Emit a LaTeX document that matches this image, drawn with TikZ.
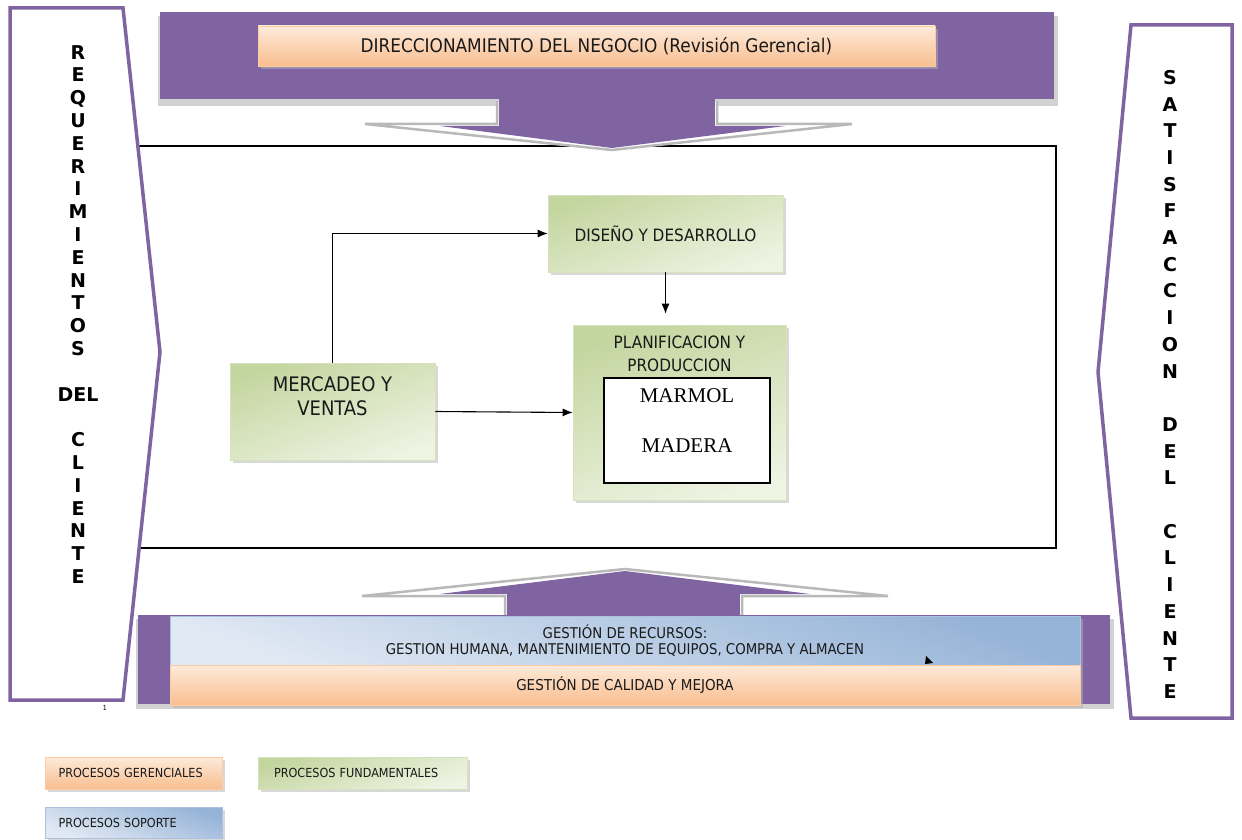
\documentclass[tikz,border=0pt]{standalone}
\usepackage{fontspec}
\setmainfont{DejaVu Sans Condensed}
\newfontfamily\serifb{Liberation Serif}
\newfontfamily\vsans{DejaVu Sans}
\usetikzlibrary{shadows,arrows.meta}
\definecolor{purp}{RGB}{128,100,162}
\definecolor{orL}{RGB}{253,234,218}
\definecolor{orD}{RGB}{249,190,143}
\definecolor{grL}{RGB}{238,243,226}
\definecolor{grD}{RGB}{196,214,160}
\definecolor{blL}{RGB}{225,233,244}
\definecolor{blD}{RGB}{149,179,215}
\definecolor{txt}{RGB}{25,25,25}
\tikzset{
  shad/.style={drop shadow={shadow xshift=3pt,shadow yshift=-3pt,fill=gray!60,opacity=.5}},
  orbox/.style={shad,top color=orL,bottom color=orD,draw=orD!80,line width=.6,inner sep=0,text=txt},
  grbox/.style={shad,top color=grL,bottom color=grD,shading angle=200,draw=grD!70,line width=.6,inner sep=0,text=txt},
  blbox/.style={shad,top color=blL,bottom color=blD,shading angle=160,draw=blD!80,line width=.6,inner sep=0,text=txt},
  arr/.style={line width=1.1,-{Latex[length=10pt,width=8pt]}},
  vtext/.style={anchor=north,align=center,inner sep=0,text=black,font=\vsans\bfseries\fontsize{19}{22.8}\selectfont},
  grayarrow/.style={draw=gray!55,line width=2.5,fill=white,line join=miter}
}
\begin{document}
\begin{tikzpicture}[x=1pt,y=-1pt]
\useasboundingbox (0,0) rectangle (1242,840);

% central frame
\draw[line width=1.2] (100,146) rectangle (1056,548);

% top purple block and arrow
\fill[gray!35] (158,16) rectangle (1058,106);
\fill[purp] (160,12) rectangle (1054,99);
\draw[grayarrow] (497,101) -- (497,124) -- (365,124) -- (612,150) -- (852,124) -- (717,124) -- (717,101);
\fill[purp] (499,96) rectangle (715,128);
\fill[purp] (440,126) -- (785,126) -- (612,148) -- cycle;
\node[orbox,minimum width=677,minimum height=40,font=\fontsize{18.8}{22}\selectfont] (dir) at (596.5,46) {DIRECCIONAMIENTO DEL NEGOCIO (Revisión Gerencial)};

% bottom purple block and arrow
\draw[grayarrow] (505,615) -- (505,596) -- (362,596) -- (625,569) -- (888,596) -- (742,596) -- (742,615);
\fill[purp] (507,592) rectangle (740,617);
\fill[purp] (440,594) -- (810,594) -- (625,571) -- cycle;
\fill[gray!35] (136,619) rectangle (1114,709);
\fill[purp] (138,615) rectangle (1110,704);
\node[blbox,minimum width=910,minimum height=49,align=center,font=\fontsize{14.8}{16.5}\selectfont] (rec) at (625,640.5) {GESTIÓN DE RECURSOS:\\GESTION HUMANA, MANTENIMIENTO DE EQUIPOS, COMPRA Y ALMACEN};
\node[orbox,minimum width=910,minimum height=40,font=\fontsize{15}{17}\selectfont] (cal) at (625,685) {GESTIÓN DE CALIDAD Y MEJORA};
\fill[black] (926,656) -- (933,663) -- (925,664) -- cycle;

% side chevrons
\draw[purp,line width=3.5,fill=white,line join=miter] (10,8) -- (123,8) -- (160,352) -- (123,700) -- (10,700) -- cycle;
\draw[purp,line width=3.5,fill=white,line join=miter] (1131,25) -- (1232,25) -- (1232,718) -- (1131,718) -- (1098,372) -- cycle;
\node[vtext] (req) at (78,45) {R\\E\\Q\\U\\E\\R\\I\\M\\I\\E\\N\\T\\O\\S\\~\\DEL\\~\\C\\L\\I\\E\\N\\T\\E};
\node[vtext,font=\vsans\bfseries\fontsize{19}{26.7}\selectfont] (sat) at (1170,70) {S\\A\\T\\I\\S\\F\\A\\C\\C\\I\\O\\N\\~\\D\\E\\L\\~\\C\\L\\I\\E\\N\\T\\E};
\node[font=\fontsize{7}{8}\selectfont,inner sep=0] (one) at (105,708) {1};

% process boxes
\node[grbox,minimum width=235,minimum height=77,font=\fontsize{17}{20}\selectfont] (dis) at (665.5,233.5) {DISEÑO Y DESARROLLO};
\node[grbox,minimum width=213,minimum height=175] (plan) at (679.5,412.5) {};
\node[align=center,inner sep=0,text=txt,font=\fontsize{17}{23}\selectfont] (plantit) at (679.5,353.5) {PLANIFICACION Y\\PRODUCCION};
\node[draw=black,fill=white,line width=1.2,minimum width=166,minimum height=105,inner sep=0] (mat) at (687,430.5) {};
\node[inner sep=0,font=\serifb\fontsize{21}{24}\selectfont] (marmol) at (687,396) {MARMOL};
\node[inner sep=0,font=\serifb\fontsize{21}{24}\selectfont] (madera) at (687,446) {MADERA};
\node[grbox,minimum width=205,minimum height=97,align=center,font=\fontsize{20}{24}\selectfont] (merc) at (332.5,411.5) {MERCADEO Y\\VENTAS\\[6pt]~};

\draw[arr] (merc.north) |- (dis.west);
\draw[arr,shorten >=11pt] (dis.south) -- (dis.south |- plan.north);
\draw[arr] (merc.east) -- (plan.west);

% legend
\node[orbox,text width=150,inner xsep=13.5,minimum height=32,align=left,font=\fontsize{12.5}{14}\selectfont] (lg1) at (133.5,773) {PROCESOS GERENCIALES};
\node[grbox,text width=177,inner xsep=16,minimum height=32,align=left,font=\fontsize{12.5}{14}\selectfont] (lg2) at (362.5,773) {PROCESOS FUNDAMENTALES};
\node[blbox,text width=150,inner xsep=13.5,minimum height=31,align=left,font=\fontsize{12.5}{14}\selectfont] (lg3) at (133.5,822.5) {PROCESOS SOPORTE};
\end{tikzpicture}
\end{document}
